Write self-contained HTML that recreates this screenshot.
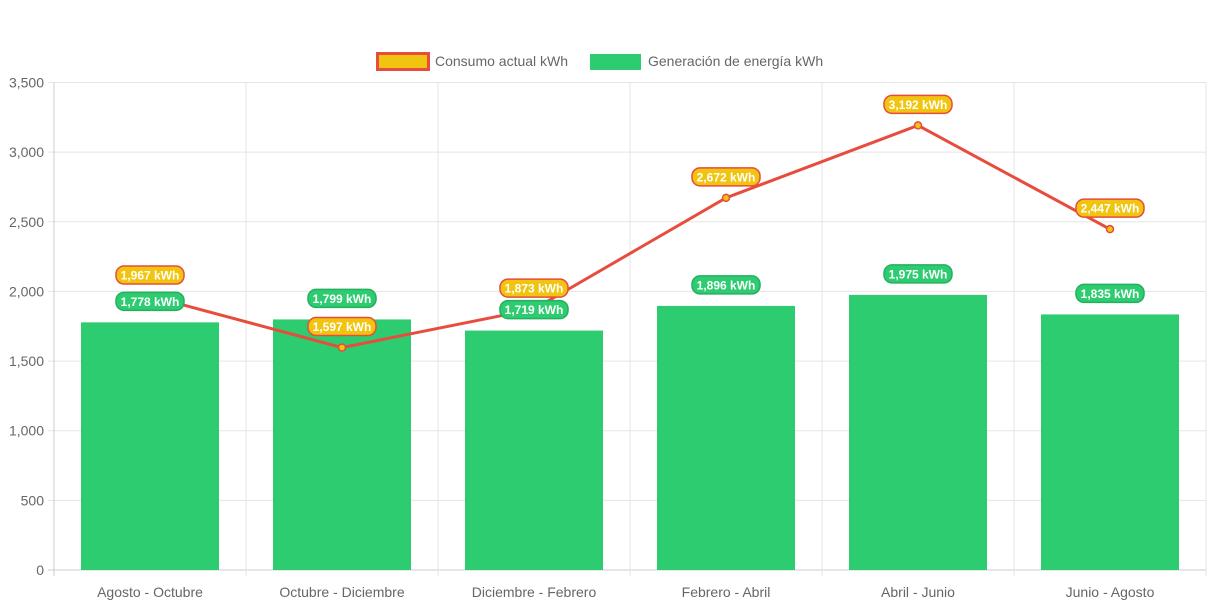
<!DOCTYPE html>
<html><head><meta charset="utf-8"><style>
html,body{margin:0;padding:0;background:#fff;}
svg{display:block;font-family:"Liberation Sans",Arial,sans-serif;}
</style></head><body>
<svg id="chart" width="1213" height="606" viewBox="0 0 1213 606">
<g id="legend">
 <g>
  <rect x="377.5" y="53.5" width="51" height="16" fill="#f1c40f" stroke="#e74c3c" stroke-width="3"/>
  <text x="435" y="66" font-size="14" fill="#666">Consumo actual kWh</text>
 </g>
 <g>
  <rect x="590" y="54" width="51" height="16" fill="#2ecc71"/>
  <text x="648" y="66" font-size="14" fill="#666">Generación de energía kWh</text>
 </g>
</g>
<g id="grid"></g>
<g id="bars"></g>
<g id="line"></g>
<g id="labels"></g>
</svg>
<script>
const categories=["Agosto - Octubre","Octubre - Diciembre","Diciembre - Febrero","Febrero - Abril","Abril - Junio","Junio - Agosto"];
const generacion=[1778,1799,1719,1896,1975,1835];
const consumo=[1967,1597,1873,2672,3192,2447];
const yTicks=[0,500,1000,1500,2000,2500,3000,3500];
const yTickLabels=["0","500","1,000","1,500","2,000","2,500","3,000","3,500"];
const NS="http://www.w3.org/2000/svg";
const L=54,R=1206,T=82.5,B=570,YMAX=3500;
const bw=(R-L)/categories.length;
const y=v=>B-(v/YMAX)*(B-T);
const xc=i=>L+bw*(i+0.5);
function mk(tag,attrs,parent){const e=document.createElementNS(NS,tag);for(const k in attrs)e.setAttribute(k,attrs[k]);parent.appendChild(e);return e;}
const grid=document.getElementById('grid');
yTicks.forEach((t,i)=>{
 const l=mk('line',{x1:L-6,x2:R,y1:y(t),y2:y(t),stroke:i===0?'#ccc':'#e5e5e5','stroke-width':1},grid);
 
 
 const tx=mk('text',{x:L-10,y:y(t)+5,'text-anchor':'end','font-size':14,fill:'#666'},grid);
 tx.textContent=yTickLabels[i];
 
 
});
for(let i=0;i<=categories.length;i++){
 const x=L+bw*i;
 const l=mk('line',{x1:x,x2:x,y1:T,y2:B+6,stroke:i===0?'#ccc':'#e5e5e5','stroke-width':1},grid);
 
 
}
categories.forEach((c,i)=>{
 const tx=mk('text',{x:xc(i),y:597,'text-anchor':'middle','font-size':14,fill:'#666'},grid);
 tx.textContent=c;
 
 
});
const bars=document.getElementById('bars');
const barW=138;
generacion.forEach((v,i)=>{
 const r=mk('rect',{x:xc(i)-barW/2,y:y(v),width:barW,height:B-y(v),fill:'#2ecc71'},bars);
 
 
});
const lineG=document.getElementById('line');
const p=mk('polyline',{points:consumo.map((v,i)=>xc(i)+','+y(v)).join(' '),fill:'none',stroke:'#e74c3c','stroke-width':3},lineG);


consumo.forEach((v,i)=>{
 const c=mk('circle',{cx:xc(i),cy:y(v),r:3.5,fill:'#f1c40f',stroke:'#e74c3c','stroke-width':1.5},lineG);
 
 
});
const labels=document.getElementById('labels');
function pill(cx,cy,txt,fill,stroke,name){
 const g=mk('g',{},labels);
 
 
 mk('rect',{x:cx-34,y:cy-9,width:68,height:18,rx:8,fill:fill,stroke:stroke,'stroke-width':1.5},g);
 const t=mk('text',{x:cx,y:cy+4.5,'text-anchor':'middle','font-size':12,'font-weight':'bold',fill:'#fff'},g);
 t.textContent=txt;
}
const fmt=v=>v.toLocaleString('en-US')+' kWh';
generacion.forEach((v,i)=>pill(xc(i),y(v)-21,fmt(v),'#2ecc71','#27ae60','generacion-value-label'));
consumo.forEach((v,i)=>pill(xc(i),y(v)-21,fmt(v),'#f1c40f','#e74c3c','consumo-value-label'));
</script>
</body></html>
